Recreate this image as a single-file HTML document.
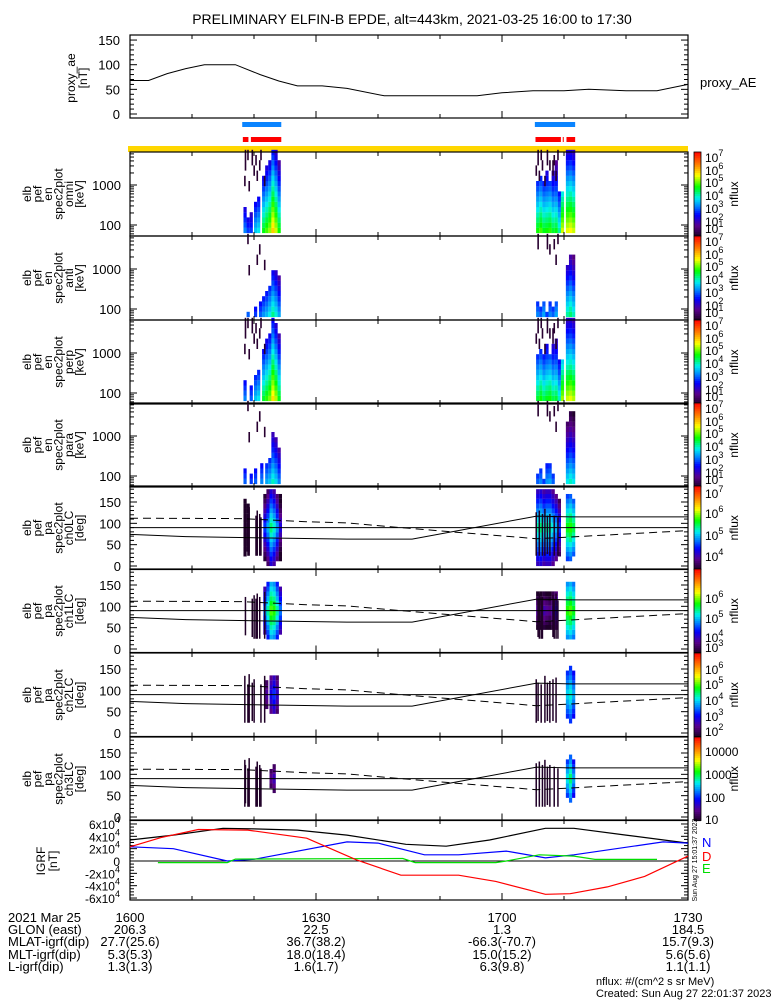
<!DOCTYPE html>
<html><head><meta charset="utf-8"><style>
html,body{margin:0;padding:0;background:#fff;}
svg{display:block;font-family:"Liberation Sans",sans-serif;}
text{fill:#000;}
</style></head><body>
<svg id="chart" width="775" height="1000" viewBox="0 0 775 1000" xmlns="http://www.w3.org/2000/svg">
<text x="412" y="24" font-size="14" text-anchor="middle">PRELIMINARY ELFIN-B EPDE, alt=443km, 2021-03-25 16:00 to 17:30</text>
</svg>
<script>
// ---- data arrays ----
const aeT=[0,3,6,9,12,17,21,24,27,31,35,41,50,56,60,65,70,74,80,85,90];
const aeV=[68,68,82,92,100,100,80,67,57,57,52,37,37,37,43,47,47,50,47,47,60];
const aeTicks=[0,50,100,150];
const blueBars=[[18.1,24.4],[65.3,71.8]];
const redBars=[[18.2,19.1],[19.5,24.4],[65.4,69.5],[69.8,69.9],[70.4,71.8]];
const xTickMin=[0,30,60,90];
const xTickLab=['1600','1630','1700','1730'];
// energy panels: columns times, bottom log flux, extent (bins)
const e1T=[18.3,18.8,19.3,20.0,20.5,21.3,21.8,22.3,22.8,23.3,23.8,65.5,66.0,66.5,67.0,67.5,68.0,68.5,69.0,69.5,70.3,70.8,71.3];
const e1B=[3.2,2.8,2.8,3.6,3.8,4.6,4.9,5.2,5.9,5.4,4.7,4.7,4.9,4.6,4.7,4.8,4.5,4.6,4.1,5.4,5.5,5.6,5.4];
const e1N=[5,3,4,6,7,11,13,14,16,16,14,10,11,10,12,10,12,14,8,8,16,16,16];
const e2T=[18.8,20.0,20.8,21.3,21.8,22.3,22.8,23.3,23.8,65.5,66.0,66.5,67.0,67.5,68.0,68.5,70.3,70.8,71.3];
const e2B=[3.0,2.8,3.0,3.3,3.5,3.8,4.2,3.9,3.4,3.2,3.0,3.4,2.8,3.2,3.0,3.4,4.1,4.3,4.0];
const e2N=[1,2,3,4,5,6,9,9,8,3,2,3,1,3,2,3,10,12,12];
const e3T=[18.3,19.3,20.0,20.5,21.3,21.8,22.3,22.8,23.3,23.8,65.5,66.0,66.5,67.0,67.5,68.0,68.5,69.0,69.5,70.3,70.8,71.3];
const e3B=[3.2,3.0,3.6,3.8,4.5,4.8,5.1,5.8,5.3,4.6,4.5,4.7,4.4,4.6,4.7,4.4,4.5,4.0,5.2,5.4,5.5,5.3];
const e3N=[4,3,5,6,10,12,13,16,15,13,9,10,9,11,9,11,12,8,8,16,16,16];
const e4T=[18.3,19.3,20.0,21.0,21.8,22.3,22.8,23.3,23.8,65.5,66.0,66.5,67.0,67.5,68.0,70.3,70.8,71.3];
const e4B=[3.0,2.8,3.0,3.2,3.4,3.6,4.0,3.7,3.2,3.0,3.2,2.8,3.3,3.4,3.0,3.8,4.0,3.8];
const e4N=[3,2,3,4,4,5,10,9,7,2,3,1,4,4,2,12,14,14];
const eSpeck=[[18.5,12,15],[19.1,8,9],[19.6,13,15],[20.4,10,11],[21.0,14,15],[21.6,9,10],[20.2,13,14],[18.9,14,15],[19.9,11,12],[20.8,12,13],[18.4,9,10],[65.7,13,15],[66.4,12,13],[67.2,13,15],[68.1,11,13],[68.9,14,15],[66.8,9,10],[68.6,10,11],[65.9,10,11],[67.6,12,13],[66.2,14,15],[68.3,13,14],[65.4,11,12]];
// pitch-angle panels: column times, centre log flux, half-width (deg)
const p5T=[18.3,18.8,21.5,22.0,22.5,23.0,23.5,24.0,65.5,66.0,66.5,67.0,67.5,68.0,68.5,69.0,70.3,70.8,71.3];
const p5C=[3.6,3.5,4.6,5.0,5.5,5.3,4.9,4.3,5.4,5.5,5.3,5.4,5.4,5.2,5.0,4.6,5.7,5.8,5.6];
const p5H=[70,60,80,85,85,85,80,75,90,90,90,90,90,85,80,70,75,75,70];
const p6T=[21.5,22.0,22.5,23.0,23.5,24.0,65.5,66.0,66.5,67.0,67.5,68.0,68.5,70.3,70.8,71.3];
const p6C=[4.2,4.8,5.3,5.2,4.8,4.2,3.4,3.3,3.5,3.4,3.3,3.6,3.8,5.2,5.3,5.1];
const p6H=[55,65,70,70,65,60,45,45,45,45,45,45,40,70,70,65];
const p7T=[21.8,22.5,23.0,23.5,70.3,70.8,71.3];
const p7C=[2.6,3.0,3.3,2.8,4.0,4.2,3.8];
const p7H=[30,40,45,40,60,65,55];
const p8T=[22.5,23.0,70.3,70.8,71.3];
const p8C=[1.4,1.6,2.6,2.9,2.4];
const p8H=[25,30,45,55,40];
const lcT=[0,9,20,35,45.5,65.6,70.9,90];
const lcV=[74,69,66,63,63,117,115,115];
const dlT=[0,18,28,35,42,52,65.6,71,90];
const dlV=[112,111,104,101,92,80,64,68,83];
// IGRF
const igT=[0,7,15,20,27,35,44.5,51,58,67,71.6,80,90];
const igTot=[34,42,53,52,50,42,27,24,34,53,53,42,29];
const igDT=[0,5,11,19,28.5,36.5,43.7,53,59,67,71,77,83,90];
const igD=[23,38,51,50,37,2,-23,-23,-33,-54,-53,-42,-25,8];
const igNT=[0,7,15.7,20,35,40,47.5,53,60.7,67,71.6,86,90];
const igN=[23,20,0,2.7,31,29,10,10,16,5,10,31,29];
const igET=[4.5,15.7,17,44,46,59,60.7,66,71.6,75,85];
const igE=[-2.6,-2.6,3,4,-2.6,-2.6,0,10,8,2.6,2.6];
const igTicks=[6,4,2,0,-2,-4,-6];
const bottomRows=[['2021 Mar 25','1600','1630','1700','1730'],['GLON (east)','206.3','22.5','1.3','184.5'],['MLAT-igrf(dip)','27.7(25.6)','36.7(38.2)','-66.3(-70.7)','15.7(9.3)'],['MLT-igrf(dip)','5.3(5.3)','18.0(18.4)','15.0(15.2)','5.6(5.6)'],['L-igrf(dip)','1.3(1.3)','1.6(1.7)','6.3(9.8)','1.1(1.1)']];

// ---- helpers ----
const S=document.getElementById('chart');
const NS='http://www.w3.org/2000/svg';
function mk(tag,at,parent){const e=document.createElementNS(NS,tag);for(const k in at)e.setAttribute(k,at[k]);(parent||S).appendChild(e);return e;}
const X0=130,X1=688;
const xs=t=>X0+t*(X1-X0)/90;
const stops=[[0,[30,0,40]],[0.12,[90,0,140]],[0.25,[0,0,255]],[0.35,[0,128,255]],[0.45,[0,240,240]],[0.58,[0,255,0]],[0.72,[255,255,0]],[0.85,[255,128,0]],[1,[255,0,0]]];
function cmap(f){f=Math.max(0,Math.min(1,f));for(let i=1;i<stops.length;i++){if(f<=stops[i][0]){const a=stops[i-1],b=stops[i];const u=(f-a[0])/(b[0]-a[0]);const c=a[1].map((v,j)=>Math.round(v+u*(b[1][j]-v)));return 'rgb('+c.join(',')+')';}}return 'rgb(255,0,0)';}
function line(x1,y1,x2,y2,g,w){return mk('line',{x1,y1,x2,y2,stroke:'#000','stroke-width':w||1},g);}
function frame(g,top,bot){mk('rect',{x:X0,y:top,width:X1-X0,height:bot-top,fill:'none',stroke:'#000','stroke-width':1.2},g);
  for(let m=0;m<=90;m+=10){const L=(m%30===0)?7:4;line(xs(m),bot,xs(m),bot-L,g);line(xs(m),top,xs(m),top+L,g);}}
function ytitle(g,lines,yc,x0,dx){lines.forEach((s,k)=>{const x=x0+k*dx;const t=mk('text',{x:x,y:yc,'font-size':12,'text-anchor':'middle',transform:'rotate(-90 '+x+' '+yc+')'},g);t.textContent=s;});}
function polyPts(T,V,fx,fy){return T.map((t,i)=>fx(t).toFixed(1)+','+fy(V[i]).toFixed(1)).join(' ');}

// ---- proxy AE panel ----
const gAE=mk('g',{});


const aeY=v=>114-v*0.493;
frame(gAE,35,118);
aeTicks.forEach(v=>{const y=aeY(v);line(X0,y,X0+7,y,gAE);line(X1,y,X1-7,y,gAE);const t=mk('text',{x:120,y:y+5,'font-size':13,'text-anchor':'end'},gAE);t.textContent=v;});
for(let v=10;v<=150;v+=10){if(v%50){const y=aeY(v);line(X0,y,X0+4,y,gAE);line(X1,y,X1-4,y,gAE);}}
ytitle(gAE,['proxy_ae','[nT]'],78,75,12);
const aeLine=mk('polyline',{points:polyPts(aeT,aeV,xs,aeY),fill:'none',stroke:'#000','stroke-width':1},gAE);


const aeLab=mk('text',{x:700,y:87,'font-size':13},gAE);aeLab.textContent='proxy_AE';



// ---- bars ----
blueBars.forEach(b=>{const r=mk('rect',{x:xs(b[0]),y:122,width:xs(b[1])-xs(b[0]),height:5,fill:'#0a84ff'});

});
redBars.forEach(b=>{const r=mk('rect',{x:xs(b[0]),y:137,width:Math.max(1,xs(b[1])-xs(b[0])),height:5,fill:'#ff0000'});

});
const yb=mk('rect',{x:128,y:146,width:X1-128,height:6,fill:'#ffd700'});



// ---- colorbar ----
function colorbar(top,bot,labels,name){const g=mk('g',{});


const n=40;for(let i=0;i<n;i++){mk('rect',{x:694,y:top+(bot-top)*i/n,width:7,height:(bot-top)/n+0.6,fill:cmap(1-(i+0.5)/n)},g);}
mk('rect',{x:694,y:top,width:7,height:bot-top,fill:'none',stroke:'#000','stroke-width':0.8},g);
labels.forEach(l=>{const t=mk('text',{x:705,y:top+l[1]+5,'font-size':12},g);if(l[2]){t.textContent=l[0];}else{t.textContent='10';const s=mk('tspan',{dy:-6,'font-size':9},t);s.textContent=l[0];}});
const tt=mk('text',{x:738,y:(top+bot)/2,'font-size':12,'text-anchor':'middle',transform:'rotate(-90 738 '+((top+bot)/2)+')'},g);tt.textContent='nflux';}

// ---- energy panels ----
const eTops=[152,236,320,403];
const eTitles=['omni','anti','perp','para'];
const eData=[[e1T,e1B,e1N],[e2T,e2B,e2N],[e3T,e3B,e3N],[e4T,e4B,e4N]];
const eLab=[['7',5],['6',18],['5',30],['4',43],['3',56],['2',69],['1',76]];
eTops.forEach((top,pi)=>{const bot=top+84;const g=mk('g',{});


const ey=le=>top+33-(le-3)*40;const vmin=0.9,vmax=7.4;const fc=v=>cmap((v-vmin)/(vmax-vmin));
const [T,B,N]=eData[pi];
T.forEach((t,i)=>{for(let j=0;j<N[i];j++){const v=B[i]-0.22*j;const le=1.8+0.13*j;const r=mk('rect',{x:xs(t),y:ey(le+0.13),width:3.2,height:5.3,fill:fc(v)},g);

}});
eSpeck.forEach((s,k)=>{if((k+pi)%2===0||pi===0||pi===2){mk('rect',{x:xs(s[0]),y:ey(1.8+0.13*(s[2]+1)),width:1.6,height:5.2*(s[2]-s[1]+1),fill:'#280030'},g);}});
frame(g,top,bot);
[100,1000].forEach(v=>{const y=ey(Math.log10(v));line(X0,y,X0+7,y,g);line(X1,y,X1-7,y,g);const t=mk('text',{x:121,y:y+5,'font-size':13,'text-anchor':'end'},g);t.textContent=v;});
for(let d=1;d<=3;d++)for(let m=2;m<=9;m++){const y=ey(d+Math.log10(m));if(y>top&&y<bot){line(X0,y,X0+4,y,g);line(X1,y,X1-4,y,g);}}
ytitle(g,['elb','pef','en','spec2plot',eTitles[pi],'[keV]'],top+42,31,10.5);
colorbar(top,bot,eLab,'colorbar-'+eTitles[pi]);});

// ---- pitch-angle panels ----
const pTops=[486,569,653,737];
const pData=[[p5T,p5C,p5H],[p6T,p6C,p6H],[p7T,p7C,p7H],[p8T,p8C,p8H]];
const pRange=[[3.4,7.3],[2.8,6.7],[1.8,6.8],[0.9,4.6]];
const pLab=[[['7',7],['6',27],['5',49],['4',70]],[['6',29],['5',49],['4',68],['3',78]],[['6',16],['5',31],['4',47],['3',63],['2',78]],[['10000',14,1],['1000',37,1],['100',60,1],['10',82,1]]];
pTops.forEach((top,pi)=>{const bot=top+83.5;const g=mk('g',{});


const py=pa=>top+80-pa*0.4267;const [vmin,vmax]=pRange[pi];const fc=v=>cmap((v-vmin)/(vmax-vmin));
const [T,C,H]=pData[pi];
T.forEach((t,i)=>{for(let j=0;j<16;j++){const pa=j*11.25+5.6;const d=Math.abs(pa-90);if(d>H[i])continue;const v=C[i]-1.4*d/90;const r=mk('rect',{x:xs(t),y:py(pa+5.7),width:3.2,height:4.9,fill:fc(v)},g);

}});
eSpeck.forEach((s,k)=>{if((k+pi)%3!==2){mk('rect',{x:xs(s[0]),y:py(170-s[1]*4),width:1.5,height:(150-s[2]*4)*0.4267,fill:'#200028'},g);}});
frame(g,top,bot);
[0,50,100,150].forEach(v=>{const y=py(v);line(X0,y,X0+7,y,g);line(X1,y,X1-7,y,g);const t=mk('text',{x:121,y:y+5,'font-size':13,'text-anchor':'end'},g);t.textContent=v;});
for(let v=10;v<=180;v+=10){if(v%50){const y=py(v);line(X0,y,X0+4,y,g);line(X1,y,X1-4,y,g);}}
line(X0,py(90),X1,py(90),g);
const lc=mk('polyline',{points:polyPts(lcT,lcV,xs,py),fill:'none',stroke:'#000','stroke-width':1},g);


const dl=mk('polyline',{points:polyPts(dlT,dlV,xs,py),fill:'none',stroke:'#000','stroke-width':1,'stroke-dasharray':'8,5'},g);


ytitle(g,['elb','pef','pa','spec2plot','ch'+pi+'LC','[deg]'],top+42,31,10.5);
colorbar(top,bot,pLab[pi],'colorbar-ch'+pi);});

// ---- IGRF panel ----
const gI=mk('g',{});


const iy=v=>861-v*0.617;
frame(gI,820,900);
igTicks.forEach(v=>{const y=iy(v*10);line(X0,y,X0+7,y,gI);line(X1,y,X1-7,y,gI);const t=mk('text',{x:120,y:y+5,'font-size':12,'text-anchor':'end'},gI);if(v===0){t.textContent='0';}else{t.textContent=v+'x10';const s=mk('tspan',{dy:-6,'font-size':9},t);s.textContent='4';}});
for(let v=-60;v<=60;v+=5){if(v%20){const y=iy(v);line(X0,y,X0+4,y,gI);line(X1,y,X1-4,y,gI);}}
line(X0,iy(0),X1,iy(0),gI);
[[igT,igTot,'#000','igrf-total-line'],[igNT,igN,'#0000ff','igrf-n-line'],[igET,igE,'#00dd00','igrf-e-line'],[igDT,igD,'#ff0000','igrf-d-line']].forEach(s=>{const p=mk('polyline',{points:polyPts(s[0],s[1],xs,iy),fill:'none',stroke:s[2],'stroke-width':1.2},gI);

});
ytitle(gI,['IGRF','[nT]'],861,45,12);
[['N','#0000ff',842],['D','#ff0000',856],['E','#00dd00',868]].forEach(l=>{const t=mk('text',{x:702,y:l[2]+5,'font-size':13,fill:l[1]},gI);t.textContent=l[0];t.style.fill=l[1];

});
const stamp=mk('text',{x:697,y:860,'font-size':7,'text-anchor':'middle',transform:'rotate(-90 697 860)'},gI);stamp.textContent='Sun Aug 27 15:01:37 2023';

// ---- bottom annotation ----
const gB=mk('g',{});


const rowY=[922,934,946,959,971];
bottomRows.forEach((r,i)=>{const t=mk('text',{x:8,y:rowY[i],'font-size':13},gB);t.textContent=r[0];
xTickMin.forEach((m,k)=>{const u=mk('text',{x:xs(m),y:rowY[i],'font-size':13,'text-anchor':'middle'},gB);u.textContent=r[k+1];});});
const n1=mk('text',{x:596,y:985,'font-size':11},gB);n1.textContent='nflux: #/(cm^2 s sr MeV)';
const n2=mk('text',{x:596,y:997,'font-size':11},gB);n2.textContent='Created: Sun Aug 27 22:01:37 2023';
</script>
</body></html>
